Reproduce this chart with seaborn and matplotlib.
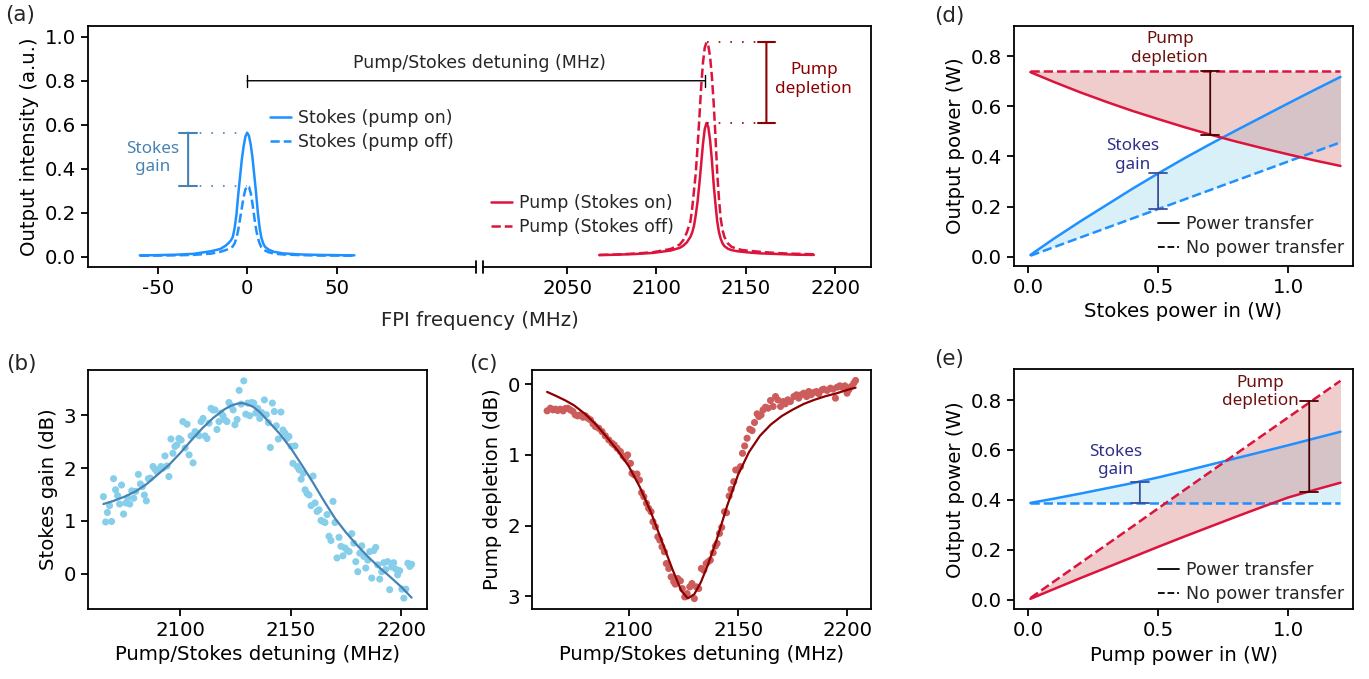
import numpy as np
import matplotlib
matplotlib.use("Agg")
import matplotlib.pyplot as plt
from matplotlib.lines import Line2D
import seaborn as sns

sns.set_style("ticks")
plt.rcParams.update({
    "font.family": ["DejaVu Sans"],
    "font.size": 14.2,
    "axes.labelsize": 14.2,
    "xtick.labelsize": 14.2,
    "ytick.labelsize": 14.2,
    "axes.linewidth": 1.3,
    "xtick.major.width": 1.3,
    "ytick.major.width": 1.3,
    "xtick.major.size": 5,
    "ytick.major.size": 5,
    "xtick.color": "black",
    "ytick.color": "black",
    "axes.edgecolor": "black",
    "axes.labelcolor": "black",
    "axes.unicode_minus": False,
})

# ---------------- data: panel (a) spectra ----------------
stokes_freq = [-60, -50, -40, -30, -20, -15, -12, -10, -9, -8, -7, -6, -5, -4, -3, -2, -1, 0,
               1, 2, 3, 4, 5, 6, 7, 8, 9, 10, 12, 15, 20, 30, 40, 50, 60]
stokes_on = [0.006, 0.007, 0.009, 0.013, 0.025, 0.035, 0.050, 0.065, 0.075, 0.090, 0.130, 0.190,
             0.280, 0.360, 0.440, 0.500, 0.545, 0.564, 0.550, 0.510, 0.450, 0.370, 0.290, 0.200,
             0.130, 0.085, 0.060, 0.045, 0.032, 0.022, 0.015, 0.010, 0.008, 0.007, 0.006]
stokes_off = [0.004, 0.005, 0.006, 0.008, 0.014, 0.022, 0.030, 0.036, 0.040, 0.047, 0.060, 0.085,
              0.120, 0.170, 0.220, 0.270, 0.305, 0.322, 0.318, 0.290, 0.240, 0.180, 0.125, 0.085,
              0.060, 0.042, 0.033, 0.028, 0.020, 0.014, 0.010, 0.007, 0.005, 0.005, 0.004]

pump_freq = [2068, 2078, 2088, 2098, 2108, 2113, 2115, 2117, 2119, 2120, 2121, 2122, 2123, 2124,
             2125, 2126, 2127, 2128, 2129, 2130, 2131, 2132, 2133, 2134, 2135, 2136, 2137, 2138,
             2140, 2142, 2145, 2148, 2153, 2158, 2168, 2178, 2188]
pump_on = [0.007, 0.009, 0.012, 0.017, 0.028, 0.040, 0.050, 0.065, 0.090, 0.110, 0.140, 0.190,
           0.250, 0.330, 0.420, 0.510, 0.580, 0.608, 0.590, 0.530, 0.440, 0.330, 0.240, 0.160,
           0.110, 0.080, 0.060, 0.048, 0.036, 0.030, 0.025, 0.022, 0.018, 0.015, 0.012, 0.009, 0.008]
pump_off = [0.008, 0.010, 0.014, 0.020, 0.035, 0.055, 0.075, 0.110, 0.160, 0.220, 0.300, 0.380,
            0.500, 0.630, 0.770, 0.880, 0.950, 0.975, 0.960, 0.910, 0.820, 0.700, 0.550, 0.380,
            0.260, 0.170, 0.120, 0.090, 0.060, 0.045, 0.036, 0.030, 0.026, 0.022, 0.016, 0.013, 0.011]

# ---------------- data: panel (b) Stokes gain ----------------
gain_x = [2065.4, 2066.4, 2067.2, 2068.2, 2069.1, 2070.0, 2070.9, 2071.8, 2072.7, 2073.6, 2074.5,
          2075.5, 2076.4, 2077.3, 2078.2, 2079.1, 2080.0, 2081.2, 2082.1, 2083.0, 2083.9, 2084.8,
          2085.7, 2086.6, 2087.8, 2088.7, 2089.6, 2090.5, 2091.4, 2092.3, 2093.2, 2094.1, 2095.0,
          2095.9, 2096.8, 2097.7, 2098.6, 2099.5, 2100.5, 2101.3, 2102.3, 2103.2, 2104.1, 2105.0,
          2105.9, 2106.8, 2107.7, 2108.6, 2109.5, 2110.4, 2111.3, 2112.2, 2113.1, 2114.0, 2114.9,
          2115.8, 2116.7, 2117.6, 2118.5, 2119.4, 2120.3, 2121.2, 2122.1, 2123.0, 2124.0, 2124.8,
          2125.8, 2126.7, 2127.6, 2128.8, 2129.7, 2130.6, 2131.5, 2132.4, 2133.3, 2134.2, 2135.1,
          2136.0, 2136.9, 2138.1, 2139.0, 2139.9, 2140.8, 2141.7, 2142.6, 2143.5, 2144.4, 2145.6,
          2146.5, 2147.4, 2148.3, 2149.2, 2150.2, 2151.0, 2151.9, 2152.9, 2153.8, 2154.7, 2155.6,
          2156.5, 2157.4, 2158.3, 2159.2, 2160.1, 2161.0, 2161.9, 2162.8, 2163.7, 2164.6, 2165.5,
          2166.4, 2167.3, 2168.2, 2169.1, 2170.0, 2170.9, 2171.8, 2172.7, 2173.6, 2174.5, 2175.5,
          2176.4, 2177.6, 2178.5, 2179.4, 2180.3, 2181.2, 2182.1, 2183.0, 2183.9, 2184.8, 2185.7,
          2186.6, 2187.5, 2188.4, 2189.3, 2190.2, 2191.1, 2192.0, 2192.9, 2193.8, 2194.7, 2195.6,
          2196.5, 2197.4, 2198.3, 2199.2, 2200.2, 2201.1, 2202.0, 2202.9, 2203.8, 2204.6]
gain_db = [1.46, 0.98, 1.16, 1.29, 0.99, 1.80, 1.59, 1.48, 1.32, 1.68, 1.13, 1.34, 1.44, 1.32,
           1.57, 1.43, 1.56, 1.88, 1.70, 1.65, 1.49, 1.38, 1.80, 1.81, 2.03, 1.98, 1.93, 1.97,
           2.03, 2.00, 2.23, 2.04, 1.84, 2.55, 2.28, 2.41, 2.44, 2.56, 2.53, 2.88, 2.38, 2.83,
           2.25, 2.61, 2.10, 2.69, 2.66, 2.61, 2.88, 2.94, 2.61, 2.56, 2.85, 3.13, 3.10, 3.10,
           2.73, 2.88, 3.04, 2.99, 2.91, 2.88, 3.24, 3.18, 3.10, 2.82, 2.92, 3.47, 3.21, 3.65,
           3.02, 3.23, 2.99, 3.24, 3.23, 3.04, 3.13, 2.94, 3.05, 3.29, 3.01, 2.86, 2.39, 3.23,
           3.07, 2.80, 2.55, 3.06, 2.72, 2.66, 2.56, 2.60, 2.41, 2.09, 2.42, 2.03, 1.97, 1.79,
           1.90, 1.59, 1.52, 1.49, 1.29, 1.85, 1.34, 1.18, 1.21, 1.01, 0.99, 0.97, 1.12, 0.71,
           0.63, 1.37, 0.97, 0.30, 0.69, 0.52, 0.34, 0.49, 0.44, 0.42, 0.76, 0.58, 0.23, 0.04,
           0.39, 0.53, 0.33, 0.11, 0.26, 0.42, -0.08, 0.44, 0.50, 0.17, -0.10, 0.04, 0.21, 0.08,
           0.23, -0.30, 0.13, 0.21, 0.09, -0.02, 0.06, -0.29, -0.46, -0.29, 0.20, 0.14, 0.18]
gain_fit_x = [2065.4, 2070, 2075, 2080, 2085, 2090, 2095, 2100, 2105, 2110, 2115, 2120, 2123,
              2126, 2128, 2130, 2133, 2136, 2140, 2145, 2150, 2155, 2160, 2165, 2170, 2175, 2180,
              2185, 2190, 2195, 2200, 2204.6]
gain_fit = [1.32, 1.38, 1.46, 1.56, 1.70, 1.88, 2.06, 2.28, 2.52, 2.75, 2.95, 3.11, 3.18,
            3.22, 3.23, 3.21, 3.16, 3.06, 2.88, 2.65, 2.38, 2.06, 1.73, 1.38, 1.05, 0.78, 0.54,
            0.32, 0.12, -0.06, -0.25, -0.45]

# ---------------- data: panel (c) pump depletion ----------------
depl_x = [2062.7, 2064.2, 2065.4, 2066.5, 2067.5, 2068.7, 2070.0, 2071.0, 2072.1, 2073.3, 2074.5,
          2075.6, 2076.7, 2077.9, 2079.1, 2080.2, 2081.3, 2082.5, 2083.7, 2084.8, 2086.3, 2087.8,
          2089.3, 2090.9, 2092.4, 2093.4, 2094.7, 2096.2, 2097.4, 2098.5, 2099.5, 2100.8, 2101.5,
          2102.6, 2103.8, 2104.9, 2105.9, 2106.9, 2108.1, 2109.1, 2110.2, 2111.1, 2112.2, 2113.3,
          2114.2, 2115.2, 2116.3, 2117.2, 2118.3, 2119.4, 2120.6, 2121.3, 2122.4, 2123.6, 2124.5,
          2125.6, 2126.7, 2127.9, 2128.9, 2130.0, 2130.9, 2132.0, 2133.2, 2134.3, 2135.4, 2136.3,
          2137.3, 2138.6, 2139.6, 2140.4, 2141.5, 2142.5, 2143.8, 2144.7, 2145.9, 2146.8, 2148.0,
          2148.9, 2149.8, 2151.1, 2152.0, 2153.0, 2154.1, 2155.3, 2156.4, 2157.5, 2158.7, 2159.5,
          2160.5, 2161.4, 2162.5, 2163.7, 2164.8, 2166.0, 2167.1, 2168.1, 2169.4, 2170.6, 2171.6,
          2172.7, 2173.9, 2175.5, 2176.7, 2177.7, 2178.8, 2180.0, 2181.3, 2182.3, 2183.4, 2184.6,
          2185.8, 2186.9, 2188.4, 2189.2, 2190.7, 2192.2, 2193.4, 2194.5, 2195.3, 2196.5, 2197.6,
          2198.8, 2199.8, 2200.6, 2201.7, 2202.9, 2203.7]
depl_db = [0.378, 0.340, 0.364, 0.354, 0.373, 0.354, 0.378, 0.345, 0.340, 0.364, 0.387, 0.435,
           0.449, 0.435, 0.468, 0.449, 0.482, 0.505, 0.562, 0.600, 0.624, 0.671, 0.732, 0.789,
           0.836, 0.860, 0.907, 0.954, 1.016, 1.049, 1.001, 1.120, 1.261, 1.285, 1.271, 1.356,
           1.535, 1.592, 1.686, 1.757, 1.804, 1.946, 2.017, 2.159, 2.206, 2.300, 2.371, 2.537,
           2.607, 2.726, 2.796, 2.829, 2.749, 2.782, 2.891, 3.009, 2.962, 2.867, 2.820, 3.033,
           2.867, 2.891, 2.607, 2.631, 2.537, 2.513, 2.489, 2.385, 2.291, 2.253, 2.111, 2.026,
           1.804, 1.819, 1.582, 1.488, 1.379, 1.214, 1.214, 1.167, 0.978, 0.874, 0.765, 0.638,
           0.657, 0.543, 0.420, 0.458, 0.435, 0.364, 0.326, 0.340, 0.231, 0.316, 0.175, 0.222,
           0.316, 0.246, 0.279, 0.222, 0.246, 0.175, 0.151, 0.198, 0.151, 0.128, 0.175, 0.104,
           0.151, 0.118, 0.104, 0.137, 0.080, 0.071, 0.090, 0.057, 0.071, 0.198, 0.043, 0.024,
           0.043, 0.024, 0.128, 0.080, 0.033, -0.014, -0.052]
depl_fit_x = [2062.7, 2067, 2071, 2075, 2080, 2085, 2090, 2095, 2100, 2105, 2110, 2115, 2120,
              2124, 2127, 2130, 2133, 2136, 2140, 2145, 2150, 2155, 2160, 2165, 2170, 2175,
              2180, 2185, 2190, 2195, 2200, 2203.7]
depl_fit = [0.11, 0.17, 0.23, 0.30, 0.42, 0.57, 0.75, 0.94, 1.16, 1.45, 1.80, 2.21, 2.62,
            2.92, 3.03, 2.97, 2.80, 2.57, 2.22, 1.72, 1.28, 0.96, 0.73, 0.57, 0.45, 0.36,
            0.28, 0.22, 0.17, 0.13, 0.08, 0.05]

# ---------------- data: panels (d), (e) power transfer ----------------
power_in = [0.01, 0.1, 0.2, 0.3, 0.4, 0.5, 0.6, 0.7, 0.8, 0.9, 1.0, 1.1, 1.2]
d_pump_nt = [0.740] * 13
d_pump_t = [0.736, 0.697, 0.656, 0.618, 0.582, 0.549, 0.517, 0.487, 0.459, 0.433, 0.408, 0.384, 0.362]
d_stokes_nt = [0.004, 0.038, 0.076, 0.114, 0.152, 0.190, 0.228, 0.266, 0.304, 0.342, 0.380, 0.418, 0.456]
d_stokes_t = [0.007, 0.072, 0.140, 0.205, 0.270, 0.332, 0.392, 0.449, 0.504, 0.558, 0.612, 0.665, 0.717]

e_stokes_nt = [0.388] * 13
e_stokes_t = [0.388, 0.405, 0.425, 0.446, 0.467, 0.490, 0.515, 0.541, 0.567, 0.593, 0.619, 0.646, 0.673]
e_pump_nt = [0.007, 0.073, 0.146, 0.219, 0.292, 0.366, 0.439, 0.512, 0.585, 0.658, 0.731, 0.804, 0.877]
e_pump_t = [0.004, 0.043, 0.086, 0.128, 0.170, 0.212, 0.253, 0.293, 0.333, 0.372, 0.410, 0.440, 0.469]

# ---------------- styling ----------------
BLUE = "dodgerblue"
RED = "crimson"
NOTO = ["Noto Sans", "DejaVu Sans"]
LEG_FS = 12.5
ANN_FS = 12.3
LEG_KW = dict(frameon=False, fontsize=LEG_FS, handlelength=1.2, handletextpad=0.4,
              labelspacing=0.35)
W, H = 1369, 679


def rect(l, t, r, b):
    return [l / W, 1 - b / H, (r - l) / W, (b - t) / H]


def bar(ax, x, y0, y1, color, lw=1.3, w=0.45):
    ax.annotate("", xy=(x, y1), xytext=(x, y0),
                arrowprops=dict(arrowstyle=f"|-|,widthA={w},widthB={w}", color=color,
                                lw=lw, shrinkA=0, shrinkB=0))


fig = plt.figure(figsize=(W / 100, H / 100), dpi=100)

# ---------------- panel (a) ----------------
ax_l = fig.add_axes(rect(88, 26, 476, 267))
ax_r = fig.add_axes(rect(483, 26, 871, 267))
ax_bg = fig.add_axes(rect(88, 26, 871, 267))
ax_bg.set_facecolor("none")
ax_bg.set_xticks([])
ax_bg.set_yticks([])
ax_bg.set_xlim(0, 1)
ax_bg.set_ylim(0, 1)
for s in ["left", "right", "bottom"]:
    ax_bg.spines[s].set_visible(False)

sns.lineplot(x=stokes_freq, y=stokes_on, ax=ax_l, color=BLUE, lw=1.8, label="Stokes (pump on)")
sns.lineplot(x=stokes_freq, y=stokes_off, ax=ax_l, color=BLUE, lw=1.8, linestyle="--",
             label="Stokes (pump off)")
sns.lineplot(x=pump_freq, y=pump_on, ax=ax_r, color=RED, lw=1.8, label="Pump (Stokes on)")
sns.lineplot(x=pump_freq, y=pump_off, ax=ax_r, color=RED, lw=1.8, linestyle="--",
             label="Pump (Stokes off)")

for ax in (ax_l, ax_r):
    ax.set_ylim(-0.047, 1.049)
    ax.spines["top"].set_visible(False)
    ax.set_xlabel("")
    ax.set_facecolor("none")
ax_l.set_xlim(-89, 128)
ax_r.set_xlim(2003, 2220)
ax_l.spines["right"].set_visible(False)
ax_r.spines["left"].set_visible(False)
ax_r.tick_params(axis="y", left=False, labelleft=False)
ax_l.set_xticks([-50, 0, 50])
ax_r.set_xticks([2050, 2100, 2150, 2200])
ax_l.set_yticks([0.0, 0.2, 0.4, 0.6, 0.8, 1.0])
ax_l.set_ylabel("Output intensity (a.u.)")
fig.text(480 / W, 1 - 320 / H, "FPI frequency (MHz)", ha="center", va="center", fontsize=14.2)

# break marks
ax_l.plot([1, 1], [-0.025, 0.025], transform=ax_l.transAxes, color="k", lw=1.3, clip_on=False)
ax_r.plot([0, 0], [-0.025, 0.025], transform=ax_r.transAxes, color="k", lw=1.3, clip_on=False)

ax_l.legend(loc="upper left", bbox_to_anchor=(0.43, 0.72), **LEG_KW)
ax_r.legend(loc="upper left", bbox_to_anchor=(-0.02, 0.367), **LEG_KW)

# detuning arrow across the break
s_peak = stokes_freq[int(np.argmax(stokes_on))]
p_peak = pump_freq[int(np.argmax(pump_off))]
ax_bg.annotate("", xy=(p_peak - 1, 0.8), xycoords=ax_r.transData, xytext=(s_peak, 0.8),
               textcoords=ax_l.transData, annotation_clip=False,
               arrowprops=dict(arrowstyle="|-|,widthA=0.3,widthB=0.3", color="k", lw=1.0,
                               shrinkA=0, shrinkB=0))
ax_bg.text(0.5, 0.846, "Pump/Stokes detuning (MHz)", transform=ax_bg.transAxes,
           ha="center", va="center", fontsize=LEG_FS)

# Stokes gain annotation
g_hi, g_lo = max(stokes_on), max(stokes_off)
bar(ax_l, -33, g_lo, g_hi, "steelblue", lw=1.5, w=0.45)
ax_l.hlines([g_hi, g_lo], -33, s_peak, colors="steelblue", lw=1.2, linestyles=[(0, (1, 6))])
ax_l.text(-53, 0.45, "Stokes\ngain", color="steelblue", ha="center", va="center",
          fontsize=ANN_FS, family=NOTO)

# Pump depletion annotation
d_hi, d_lo = max(pump_off), max(pump_on)
bar(ax_r, 2161.5, d_lo, d_hi, "darkred", lw=1.5, w=0.45)
ax_r.hlines([d_hi, d_lo], p_peak, 2161.5, colors="darkred", lw=1.2, linestyles=[(0, (1, 6))])
ax_r.text(2188, 0.805, "Pump\ndepletion", color="darkred", ha="center", va="center",
          fontsize=ANN_FS, family=NOTO)

# ---------------- panel (b) ----------------
ax_b = fig.add_axes(rect(88, 370, 427, 609))
sns.scatterplot(x=gain_x, y=gain_db, ax=ax_b, color="skyblue", s=26, edgecolor="none", linewidth=0)
sns.lineplot(x=gain_fit_x, y=gain_fit, ax=ax_b, color="steelblue", lw=1.6)
ax_b.set_xticks([2100, 2150, 2200])
ax_b.set_yticks([0, 1, 2, 3])
ax_b.set_xlabel("Pump/Stokes detuning (MHz)")
ax_b.set_ylabel("Stokes gain (dB)")

# ---------------- panel (c) ----------------
ax_c = fig.add_axes(rect(531.7, 370, 871, 609))
sns.scatterplot(x=depl_x, y=depl_db, ax=ax_c, color="indianred", s=26, edgecolor="none", linewidth=0)
sns.lineplot(x=depl_fit_x, y=depl_fit, ax=ax_c, color="darkred", lw=1.6)
ax_c.set_xticks([2100, 2150, 2200])
ax_c.set_yticks([0, 1, 2, 3])
ax_c.set_ylim(3.18, -0.2)
ax_c.set_xlabel("Pump/Stokes detuning (MHz)")
ax_c.set_ylabel("Pump depletion (dB)")

# ---------------- panels (d), (e) ----------------
ax_d = fig.add_axes(rect(1014, 26, 1353, 266))
ax_e = fig.add_axes(rect(1014, 369.3, 1353, 609.3))

FILL_R = dict(color="indianred", alpha=0.3, lw=0)
FILL_B = dict(color="skyblue", alpha=0.3, lw=0)

for ax, p_nt, p_t, s_nt, s_t, anchor in (
        (ax_d, d_pump_nt, d_pump_t, d_stokes_nt, d_stokes_t, (1.0, 0.0)),
        (ax_e, e_pump_nt, e_pump_t, e_stokes_nt, e_stokes_t, (1.0, -0.013))):
    ax.fill_between(power_in, s_nt, s_t, **FILL_B)
    ax.fill_between(power_in, p_nt, p_t, **FILL_R)
    sns.lineplot(x=power_in, y=s_t, ax=ax, color=BLUE, lw=1.8)
    sns.lineplot(x=power_in, y=s_nt, ax=ax, color=BLUE, lw=1.8, linestyle="--")
    sns.lineplot(x=power_in, y=p_t, ax=ax, color=RED, lw=1.8)
    sns.lineplot(x=power_in, y=p_nt, ax=ax, color=RED, lw=1.8, linestyle="--")
    ax.set_xlim(-0.053, 1.248)
    ax.set_xticks([0.0, 0.5, 1.0])
    ax.set_yticks([0.0, 0.2, 0.4, 0.6, 0.8])
    ax.set_ylabel("Output power (W)")
    handles = [Line2D([], [], color="k", lw=1.3), Line2D([], [], color="k", lw=1.3, ls="--")]
    ax.legend(handles, ["Power transfer", "No power transfer"], loc="lower right",
              bbox_to_anchor=anchor, borderaxespad=0.12, **LEG_KW)

ax_d.set_ylim(-0.037, 0.92)
ax_e.set_ylim(-0.038, 0.923)
ax_d.set_xlabel("Stokes power in (W)")
ax_e.set_xlabel("Pump power in (W)")

SG_BAR, SG_TXT = "#3b4f9a", "#2e2e8a"
PD_BAR, PD_TXT = "#4a0000", "#6b0f0f"

# (d) annotations
bar(ax_d, 0.5, d_stokes_nt[5], d_stokes_t[5], SG_BAR, lw=1.3, w=0.45)
bar(ax_d, 0.7, d_pump_t[7], d_pump_nt[7], PD_BAR, lw=1.3, w=0.45)
ax_d.text(0.403, 0.403, "Stokes\ngain", color=SG_TXT, ha="center", va="center",
          fontsize=ANN_FS, family=NOTO)
ax_d.text(0.545, 0.83, "Pump\ndepletion", color=PD_TXT, ha="center", va="center",
          fontsize=ANN_FS, family=NOTO)

# (e) annotations
bar(ax_e, 0.43, 0.388, 0.473, SG_BAR, lw=1.3, w=0.45)
bar(ax_e, 1.08, 0.433, 0.796, PD_BAR, lw=1.3, w=0.45)
ax_e.text(0.336, 0.557, "Stokes\ngain", color=SG_TXT, ha="center", va="center",
          fontsize=ANN_FS, family=NOTO)
ax_e.text(0.891, 0.833, "Pump\ndepletion", color=PD_TXT, ha="center", va="center",
          fontsize=ANN_FS, family=NOTO)

# panel letters
for lbl, x, y in (("(a)", 5, 15), ("(b)", 6, 364), ("(c)", 469, 364),
                  ("(d)", 934, 16), ("(e)", 934, 359)):
    fig.text(x / W, 1 - y / H, lbl, ha="left", va="center", fontsize=15.5)

fig.savefig("out.png", dpi=100)
